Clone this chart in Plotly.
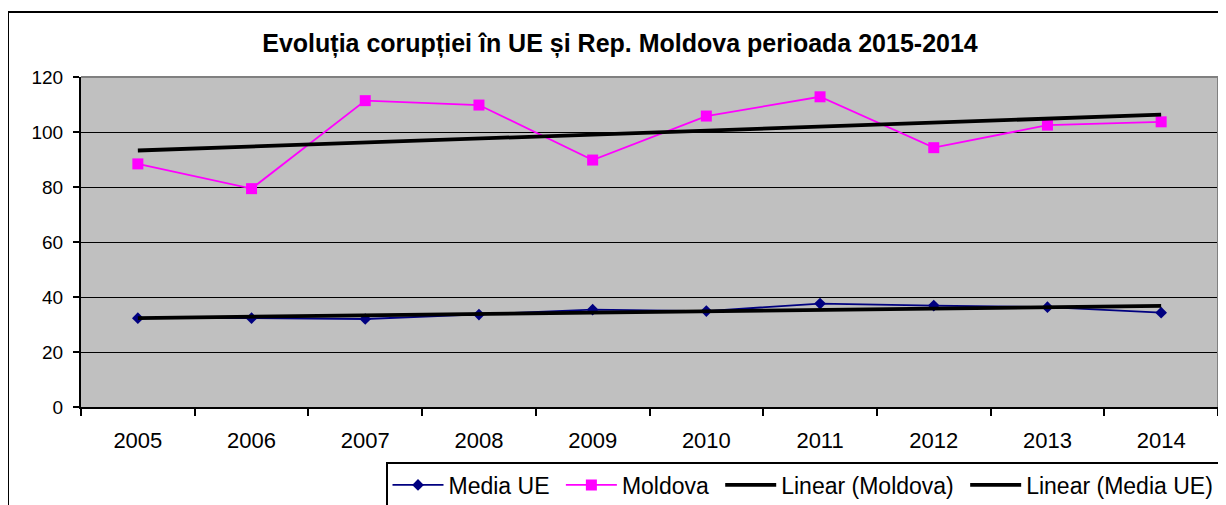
import numpy as np
import plotly.graph_objects as go

years = ["2005", "2006", "2007", "2008", "2009", "2010", "2011", "2012", "2013", "2014"]
media_ue = [32.3, 32.3, 32.0, 33.6, 35.4, 34.9, 37.6, 36.9, 36.3, 34.3]
moldova = [88.4, 79.4, 111.4, 109.8, 89.8, 105.8, 112.8, 94.3, 102.5, 103.7]
series_names = ["Media UE", "Moldova", "Linear (Moldova)", "Linear (Media UE)"]
title_text = "Evoluția corupției în UE și Rep. Moldova perioada 2015-2014"
y_ticks = [0, 20, 40, 60, 80, 100, 120]

FONT = "Liberation Sans, Arial, sans-serif"
NB = "\u00a0"

idx = np.arange(len(years))


def trend(values):
    slope, intercept = np.polyfit(idx, np.array(values, dtype=float), 1)
    return list(slope * idx + intercept)


fig = go.Figure()
fig.add_trace(go.Scatter(
    x=years, y=media_ue, name=series_names[0] + NB, mode="lines+markers",
    line=dict(color="#000080", width=1.8),
    marker=dict(symbol="diamond", size=9, color="#000080"),
))
fig.add_trace(go.Scatter(
    x=years, y=moldova, name=series_names[1] + NB, mode="lines+markers",
    line=dict(color="#FF00FF", width=1.8),
    marker=dict(symbol="square", size=11, color="#FF00FF"),
))
fig.add_trace(go.Scatter(
    x=years, y=trend(moldova), name=series_names[2] + NB, mode="lines",
    line=dict(color="#000000", width=3.8),
))
fig.add_trace(go.Scatter(
    x=years, y=trend(media_ue), name=series_names[3], mode="lines",
    line=dict(color="#000000", width=3.8),
))

# page body has an 8px margin, so work in screen coordinates minus 8
OFF = 8
W, H = 1226 - OFF, 505 - OFF
px_left, px_right, px_top, px_bottom = 81 - OFF, 1218 - OFF, 77 - OFF, 407 - OFF
L, R, T, B = px_left, W - px_right, px_top, H - px_bottom
pw, ph = px_right - px_left, px_bottom - px_top


def px_x(sx):
    return (sx - OFF - px_left) / pw


def px_y(sy):
    return (px_bottom - (sy - OFF)) / ph


fig.update_layout(
    width=W, height=H,
    margin=dict(l=L, r=R, t=T, b=B, autoexpand=False),
    paper_bgcolor="white",
    plot_bgcolor="#C0C0C0",
    font=dict(family=FONT, color="black"),
    title=dict(
        text="<b>" + title_text + "</b>",
        font=dict(family=FONT, size=25, color="black"),
        x=(620 - OFF) / W, xanchor="center", xref="container",
        y=1 - (43 - OFF) / H, yanchor="middle", yref="container",
    ),
    showlegend=True,
    legend=dict(
        orientation="h",
        x=px_x(386), xanchor="left",
        y=px_y(462), yanchor="top",
        bgcolor="white",
        bordercolor="black", borderwidth=1.5,
        font=dict(family=FONT, size=23, color="black"),
        itemwidth=51,
        traceorder="normal",
    ),
    xaxis=dict(
        type="category",
        range=[-0.5, len(years) - 0.5],
        showgrid=False,
        showline=True, linecolor="black", linewidth=2,
        ticks="outside", tickson="boundaries", ticklen=7,
        tickcolor="black", tickwidth=1.5,
        tickfont=dict(family=FONT, size=22, color="black"),
        ticklabelstandoff=13,
        zeroline=False,
    ),
    yaxis=dict(
        range=[0, 120],
        tickvals=y_ticks,
        showgrid=True, gridcolor="black", gridwidth=1.2,
        showline=True, linecolor="black", linewidth=2,
        ticks="outside", ticklen=6, tickcolor="black", tickwidth=1.5,
        tickfont=dict(family=FONT, size=19, color="black"),
        ticklabelstandoff=6,
        zeroline=False,
    ),
    shapes=[
        # outer chart frame
        dict(type="rect", xref="paper", yref="paper",
             x0=px_x(8), x1=px_x(1224),
             y0=px_y(520), y1=px_y(12),
             line=dict(color="black", width=2), fillcolor="rgba(0,0,0,0)",
             layer="below"),
        # grey plot-area border (top & right)
        dict(type="line", xref="paper", yref="paper", x0=0, x1=1, y0=1, y1=1,
             line=dict(color="#808080", width=2), layer="above"),
        dict(type="line", xref="paper", yref="paper", x0=1, x1=1, y0=0, y1=1,
             line=dict(color="#808080", width=2), layer="above"),
    ],
)

fig.write_html("out.html")
